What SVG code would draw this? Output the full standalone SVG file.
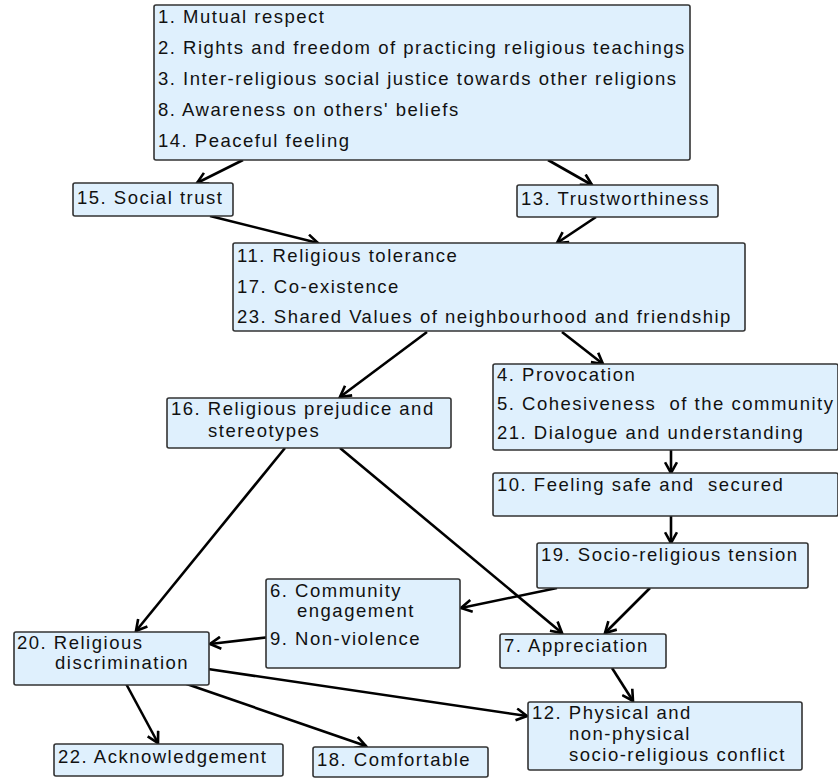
<svg xmlns="http://www.w3.org/2000/svg" width="838" height="778" viewBox="0 0 838 778">
<defs>
<style>
rect.b{fill:#dff0fd;stroke:#333;stroke-width:1.6}
text{font-family:"Liberation Sans",Arial,sans-serif;font-size:18.5px;fill:#111;letter-spacing:1.5px;white-space:pre}
#edges line{stroke:#000;stroke-width:2.6;fill:none;marker-end:url(#ah)}
</style>
<marker id="ah" viewBox="0 0 12 12" refX="10" refY="6" markerWidth="5.5" markerHeight="5.5" orient="auto" markerUnits="strokeWidth">
<path d="M1,1 L10,6 L1,11" fill="none" stroke="#000" stroke-width="2.2"/>
</marker>
</defs>
<rect width="838" height="778" fill="#fff"/>
<g id="edges">
<line x1="243" y1="160" x2="197" y2="183"/>
<line x1="548" y1="160" x2="592" y2="185"/>
<line x1="210" y1="216" x2="318" y2="243"/>
<line x1="596" y1="217" x2="557" y2="243"/>
<line x1="427" y1="332" x2="340" y2="397"/>
<line x1="562" y1="332" x2="603" y2="364"/>
<line x1="671" y1="450" x2="671" y2="473"/>
<line x1="285" y1="448" x2="136" y2="631"/>
<line x1="340" y1="448" x2="562" y2="633"/>
<line x1="671" y1="516" x2="671" y2="543"/>
<line x1="557" y1="588" x2="461" y2="608"/>
<line x1="650" y1="588" x2="605" y2="633"/>
<line x1="270" y1="637" x2="210" y2="644"/>
<line x1="208" y1="669" x2="527" y2="716"/>
<line x1="124" y1="680" x2="158" y2="743"/>
<line x1="175" y1="680" x2="366" y2="746"/>
<line x1="612" y1="668" x2="633" y2="701"/>
</g>
<g id="n1">
<rect class="b" x="154" y="5" width="536" height="155" rx="2"/>
<text x="158" y="23">1. Mutual respect</text>
<text x="158" y="54">2. Rights and freedom of practicing religious teachings</text>
<text x="158" y="85">3. Inter-religious social justice towards other religions</text>
<text x="158" y="116">8. Awareness on others' beliefs</text>
<text x="158" y="147">14. Peaceful feeling</text>
</g>
<g id="n15">
<rect class="b" x="73" y="183" width="160" height="33" rx="2"/>
<text x="77" y="204">15. Social trust</text>
</g>
<g id="n13">
<rect class="b" x="517" y="185" width="201" height="32" rx="2"/>
<text x="521" y="205">13. Trustworthiness</text>
</g>
<g id="n11">
<rect class="b" x="233" y="243" width="512" height="88" rx="2"/>
<text x="237" y="262">11. Religious tolerance</text>
<text x="237" y="293">17. Co-existence</text>
<text x="237" y="323">23. Shared Values of neighbourhood and friendship</text>
</g>
<g id="n4">
<rect class="b" x="493" y="364" width="345" height="86" rx="2"/>
<text x="497" y="381">4. Provocation</text>
<text x="497" y="410">5. Cohesiveness  of the community</text>
<text x="497" y="439">21. Dialogue and understanding</text>
</g>
<g id="n16">
<rect class="b" x="167" y="398" width="284" height="50" rx="2"/>
<text x="171" y="415">16. Religious prejudice and</text>
<text x="208" y="437">stereotypes</text>
</g>
<g id="n10">
<rect class="b" x="493" y="473" width="345" height="43" rx="2"/>
<text x="497" y="491">10. Feeling safe and  secured</text>
</g>
<g id="n19">
<rect class="b" x="537" y="543" width="271" height="45" rx="2"/>
<text x="541" y="561">19. Socio-religious tension</text>
</g>
<g id="n6">
<rect class="b" x="266" y="579" width="194" height="89" rx="2"/>
<text x="270" y="597">6. Community</text>
<text x="297" y="617">engagement</text>
<text x="270" y="645">9. Non-violence</text>
</g>
<g id="n20">
<rect class="b" x="14" y="632" width="195" height="53" rx="2"/>
<text x="17" y="649">20. Religious</text>
<text x="55" y="669">discrimination</text>
</g>
<g id="n7">
<rect class="b" x="500" y="634" width="166" height="34" rx="2"/>
<text x="504" y="652">7. Appreciation</text>
</g>
<g id="n12">
<rect class="b" x="528" y="702" width="274" height="68" rx="2"/>
<text x="532" y="719">12. Physical and</text>
<text x="569" y="740">non-physical</text>
<text x="569" y="761">socio-religious conflict</text>
</g>
<g id="n22">
<rect class="b" x="54" y="744" width="229" height="32" rx="2"/>
<text x="58" y="763">22. Acknowledgement</text>
</g>
<g id="n18">
<rect class="b" x="313" y="747" width="175" height="30" rx="2"/>
<text x="317" y="766">18. Comfortable</text>
</g>
</svg>
